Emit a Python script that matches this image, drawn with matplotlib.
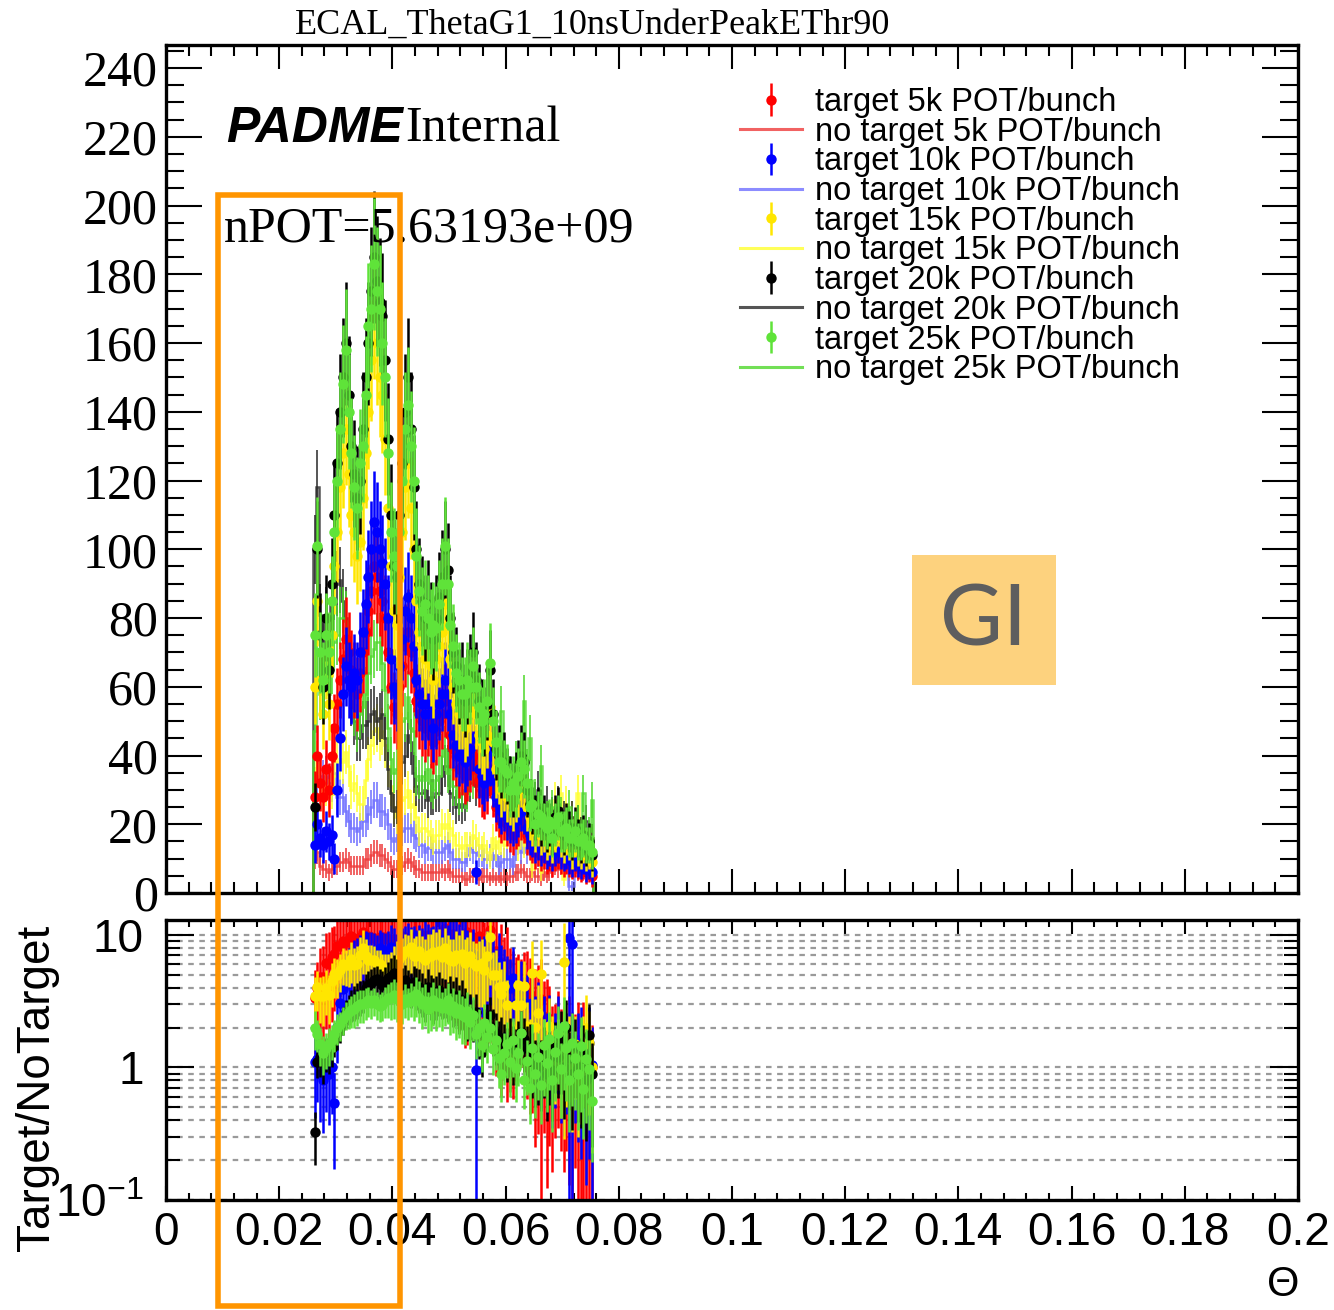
import numpy as np
import matplotlib
matplotlib.use("Agg")
import matplotlib.pyplot as plt
from matplotlib.lines import Line2D
from matplotlib.patches import Rectangle
from matplotlib.ticker import MultipleLocator, FixedLocator, NullFormatter

plt.rcParams["font.family"] = ["Liberation Sans", "DejaVu Sans"]
plt.rcParams["mathtext.fontset"] = "custom"
plt.rcParams["mathtext.rm"] = "Liberation Sans"

# histogram binning (theta)
x_lo = 0.026
bin_w = 0.0005

pot_labels = ["5k", "10k", "15k", "20k", "25k"]
col_t = ["#ff0000", "#0000ff", "#ffe600", "#000000", "#5fe339"]
col_nt = ["#ee3b3b", "#7070ff", "#ffff30", "#2a2a2a", "#4fd82c"]
pot_norm = [1.2, 1.9, 1.8, 1.3, 1.25]

t_5k = [28, 40, 32, 28, 36, 30, 40, 48, 55, 62,
        68, 74, 70, 65, 62, 58, 64, 70, 76, 82,
        88, 95, 92, 88, 85, 80, 70, 60, 54, 52,
        60, 66, 72, 76, 70, 64, 56, 52, 50, 48,
        50, 46, 44, 47, 50, 52, 56, 52, 46, 42,
        40, 36, 37, 34, 35, 38, 40, 36, 33, 30,
        29, 31, 36, 30, 25, 23, 21, 22, 20, 18,
        17, 19, 20, 22, 21, 17, 15, 14, 12, 13,
        11, 12, 10, 11, 9, 11, 12, 10, 9, 10,
        9, 8, 9, 8, 7, 8, 6, 7, 5]
nt_5k = [10, 12, 8, 7, 7, 6, 7, 8, 8, 9,
         9, 10, 9, 8, 8, 8, 8, 8, 10, 10,
         11, 12, 12, 11, 11, 10, 9, 8, 7, 7,
         8, 8, 9, 10, 9, 8, 7, 7, 6, 6,
         6, 6, 6, 6, 6, 7, 6, 7, 6, 5,
         5, 5, 5, 4, 4, 5, 5, 5, 4, 5,
         5, 5, 4, 5, 4, 5, 4, 5, 4, 5,
         5, 6, 6, 7, 6, 5, 5, 6, 5, 5,
         4, 6, 5, 6, 7, 8, 7, 8, 7, 9,
         6, 7, 8, 6, 7, 6, 7, 8, 6]

t_10k = [14, 20, 16, 14, 18, 15, 17, 10, 30, 45,
         58, 66, 62, 60, 64, 62, 70, 76, 84, 92,
         100, 108, 105, 100, 96, 90, 80, 68, 60, 58,
         66, 74, 82, 86, 80, 72, 62, 58, 55, 52,
         55, 52, 48, 52, 55, 58, 62, 58, 52, 46,
         43, 40, 41, 38, 40, 42, 45, 6, 36, 34,
         32, 35, 40, 33, 28, 26, 24, 25, 22, 21,
         20, 21, 23, 25, 24, 19, 17, 16, 14, 15,
         13, 14, 12, 13, 11, 13, 14, 12, 11, 12,
         10, 9, 11, 9, 8, 10, 7, 8, 6]
nt_10k = [24, 33, 34, 33, 34, 32, 32, 35, 28, 28,
          28, 24, 21, 19, 19, 18, 19, 21, 21, 23,
          25, 27, 27, 24, 24, 23, 20, 16, 15, 16,
          17, 18, 19, 19, 19, 17, 16, 14, 14, 12,
          13, 13, 12, 12, 12, 12, 13, 14, 12, 10,
          10, 10, 9, 9, 11, 13, 12, 12, 11, 11,
          10, 10, 11, 10, 11, 8, 9, 10, 10, 10,
          8, 13, 15, 12, 15, 12, 16, 10, 13, 11,
          16, 13, 15, 12, 17, 16, 13, 19, 21, 15,
          2, 2, 15, 12, 10, 16, 13, 10, 11]

t_15k = [60, 85, 62, 52, 68, 55, 75, 95, 105, 118,
         128, 135, 122, 110, 105, 98, 102, 115, 128, 140,
         155, 168, 160, 150, 145, 132, 112, 95, 82, 78,
         92, 105, 118, 125, 112, 100, 85, 76, 72, 68,
         70, 66, 62, 68, 72, 76, 84, 78, 68, 60,
         55, 52, 52, 48, 50, 54, 58, 52, 46, 44,
         42, 46, 54, 44, 36, 34, 30, 32, 28, 27,
         25, 28, 30, 33, 32, 25, 22, 20, 18, 20,
         17, 18, 15, 17, 14, 18, 20, 16, 14, 17,
         15, 12, 16, 13, 12, 14, 11, 12, 9]
nt_15k = [31, 38, 32, 27, 31, 28, 30, 34, 38, 39,
          38, 41, 37, 30, 32, 29, 26, 26, 33, 39,
          43, 47, 48, 45, 47, 43, 37, 31, 25, 22,
          25, 27, 28, 30, 25, 26, 22, 18, 19, 19,
          18, 17, 15, 17, 17, 20, 19, 20, 19, 17,
          14, 14, 13, 14, 14, 14, 17, 16, 14, 13,
          14, 12, 10, 16, 13, 15, 15, 14, 17, 24,
          30, 17, 13, 20, 14, 22, 26, 7, 16, 14,
          6, 22, 22, 15, 17, 27, 24, 29, 4, 26,
          18, 22, 19, 29, 18, 17, 10, 14, 16]

t_20k = [25, 100, 75, 60, 80, 65, 90, 110, 125, 140,
         150, 160, 145, 130, 122, 115, 120, 135, 150, 160,
         175, 185, 178, 172, 168, 155, 132, 110, 95, 92,
         110, 125, 140, 150, 135, 118, 100, 90, 85, 80,
         84, 78, 74, 80, 86, 92, 100, 94, 80, 70,
         66, 60, 62, 56, 60, 64, 70, 62, 56, 52,
         50, 55, 65, 52, 42, 40, 36, 38, 34, 32,
         30, 33, 36, 40, 38, 30, 26, 24, 22, 24,
         20, 22, 18, 20, 17, 22, 24, 19, 17, 20,
         18, 15, 19, 16, 14, 17, 13, 15, 11]
nt_20k = [100, 118, 81, 71, 80, 65, 84, 89, 90, 91,
          85, 80, 67, 56, 50, 45, 45, 49, 49, 50,
          52, 53, 50, 51, 52, 45, 36, 29, 24, 25,
          32, 38, 40, 46, 44, 35, 31, 29, 29, 30,
          27, 28, 28, 29, 29, 34, 37, 37, 29, 28,
          25, 26, 25, 26, 30, 32, 38, 31, 40, 52,
          33, 33, 34, 34, 30, 33, 28, 33, 32, 26,
          28, 32, 30, 28, 30, 28, 24, 26, 27, 30,
          25, 22, 26, 22, 23, 20, 26, 15, 22, 13,
          20, 22, 17, 21, 18, 17, 21, 11, 16]

t_25k = [75, 101, 70, 62, 75, 70, 85, 105, 120, 135,
         148, 158, 140, 128, 118, 112, 125, 130, 145, 165,
         170, 183, 175, 170, 160, 150, 128, 105, 98, 95,
         105, 120, 135, 142, 130, 120, 98, 88, 82, 84,
         80, 76, 78, 77, 84, 90, 101, 90, 78, 72,
         64, 62, 58, 58, 62, 60, 66, 60, 54, 50,
         52, 56, 67, 50, 44, 38, 38, 36, 35, 30,
         32, 30, 34, 38, 36, 32, 25, 26, 20, 23,
         22, 20, 19, 21, 16, 20, 22, 18, 18, 19,
         16, 16, 18, 15, 15, 16, 14, 14, 12]
nt_25k = [47, 70, 58, 60, 67, 58, 66, 73, 75, 80,
          80, 79, 67, 59, 53, 48, 52, 54, 58, 64,
          69, 71, 73, 73, 67, 59, 48, 39, 35, 36,
          41, 50, 51, 57, 48, 47, 34, 33, 34, 33,
          36, 32, 30, 33, 34, 40, 42, 35, 36, 31,
          31, 28, 29, 30, 29, 34, 33, 42, 34, 42,
          30, 41, 42, 45, 34, 40, 53, 35, 29, 34,
          25, 38, 33, 26, 56, 36, 45, 23, 28, 24,
          37, 17, 22, 16, 25, 19, 15, 23, 11, 17,
          25, 13, 19, 21, 13, 29, 15, 18, 27]

targets = [t_5k, t_10k, t_15k, t_20k, t_25k]
notargets = [nt_5k, nt_10k, nt_15k, nt_20k, nt_25k]

W_FIG, H_FIG = 1334, 1310
fig = plt.figure(figsize=(W_FIG / 100, H_FIG / 100), dpi=100)


def fx(px):
    return px / W_FIG


def fy(py):
    return 1 - py / H_FIG


ax = fig.add_axes([fx(166), fy(893), fx(1298) - fx(166), fy(45) - fy(893)])
axr = fig.add_axes([fx(166), fy(1200), fx(1298) - fx(166), fy(920) - fy(1200)])

n_bins = len(t_5k)
edges = x_lo + bin_w * np.arange(n_bins + 1)
centers = 0.5 * (edges[:-1] + edges[1:])
pad_lo, pad_hi = 8, 7
edges_pad = x_lo + bin_w * np.arange(-pad_lo, n_bins + pad_hi + 1)

handles, labels = [], []
for k in range(5):
    t = np.array(targets[k], float)
    nt = np.array(notargets[k], float)
    eb = ax.errorbar(centers, t, yerr=np.sqrt(2 * t), fmt="o", ms=7.5,
                     color=col_t[k], ecolor=col_t[k], elinewidth=1.8,
                     capsize=0, mew=0, zorder=10 + k)
    # no-target histograms sit underneath the target points
    nt_pad = np.concatenate([np.zeros(pad_lo), nt, np.zeros(pad_hi)])
    ax.stairs(nt_pad, edges_pad, color=col_nt[k], lw=1.8, alpha=0.8,
              zorder=3 + k)
    ax.errorbar(centers, nt, yerr=np.sqrt(nt), fmt="none", ecolor=col_nt[k],
                elinewidth=1.4, alpha=0.8, zorder=3 + k)
    handles += [eb, Line2D([], [], color=col_nt[k], lw=2.2, alpha=0.8)]
    labels += ["target %s POT/bunch" % pot_labels[k],
               "no target %s POT/bunch" % pot_labels[k]]

    # ratio panel
    r = pot_norm[k] * t / nt
    err = r * np.sqrt(4 / t + 2.5 / nt)
    lo = np.minimum(err, r - 1e-4)
    axr.errorbar(centers, r, yerr=[lo, err], fmt="o", ms=7.5, color=col_t[k],
                 ecolor=col_t[k], elinewidth=1.8, capsize=0, mew=0,
                 zorder=3 + k)

# --- top panel styling
ax.set_xlim(0, 0.2)
ax.set_ylim(0, 246.7)
ax.xaxis.set_major_locator(MultipleLocator(0.02))
ax.xaxis.set_minor_locator(MultipleLocator(0.004))
ax.yaxis.set_major_locator(MultipleLocator(20))
ax.yaxis.set_minor_locator(MultipleLocator(5))
ax.tick_params(axis="x", which="both", direction="in", top=True, bottom=True,
               labelbottom=False, width=1.5)
ax.tick_params(axis="x", which="major", length=17)
ax.tick_params(axis="x", which="minor", length=8)
ax.tick_params(axis="y", which="both", direction="in", left=True, right=True,
               width=1.5, pad=6)
ax.tick_params(axis="y", which="major", length=26)
ax.tick_params(axis="y", which="minor", length=13)
for lab in ax.get_yticklabels():
    lab.set_fontfamily("Liberation Serif")
    lab.set_fontsize(36)
for s in ax.spines.values():
    s.set_linewidth(2.4)
    s.set_zorder(30)

# --- ratio panel styling
axr.set_xlim(0, 0.2)
axr.set_yscale("log")
axr.set_ylim(0.1, 12.96)
axr.yaxis.set_major_locator(FixedLocator([0.1, 1, 10]))
axr.set_yticklabels([r"$\mathregular{10^{-1}}$", "1", "10"], fontsize=33)
minor_y = [m * d for d in (0.1, 1) for m in range(2, 10)]
axr.yaxis.set_minor_locator(FixedLocator(minor_y))
axr.yaxis.set_minor_formatter(NullFormatter())
axr.set_xticks(np.arange(0, 0.2001, 0.02))
axr.xaxis.set_minor_locator(MultipleLocator(0.004))
axr.set_xticklabels(["0", "0.02", "0.04", "0.06", "0.08", "0.1", "0.12",
                     "0.14", "0.16", "0.18", "0.2"], fontsize=33)
axr.tick_params(axis="x", which="both", direction="in", top=True, bottom=True,
                width=1.5, pad=8)
axr.tick_params(axis="x", which="major", length=10)
axr.tick_params(axis="x", which="minor", length=5)
axr.tick_params(axis="y", which="both", direction="in", left=True, right=True,
                width=1.5, pad=16)
axr.tick_params(axis="y", which="major", length=20)
axr.tick_params(axis="y", which="minor", length=10)
axr.yaxis.grid(True, which="both", color="#9a9a9a", lw=1.6, ls=(0, (2.5, 2.5)))
axr.set_axisbelow(True)
for s in axr.spines.values():
    s.set_linewidth(2.4)
    s.set_zorder(30)

# --- texts
fig.text(fx(593), fy(25), "ECAL_ThetaG1_10nsUnderPeakEThr90", ha="center",
         va="center", fontsize=26, family="Liberation Serif")
fig.text(fx(226), fy(142), "PADME", fontsize=36, fontweight="bold",
         fontstyle="italic", family="Liberation Sans", va="baseline")
fig.text(fx(405), fy(142), "Internal", fontsize=36, family="Liberation Serif",
         va="baseline")
fig.text(fx(224), fy(241), "nPOT=5.63193e+09", fontsize=36,
         family="Liberation Serif", va="baseline")
fig.text(fx(37), fy(1088), "Target/NoTarget", rotation=90, ha="center",
         va="center", fontsize=33)
fig.text(fx(1283), fy(1285), "\u0398", ha="center", va="center", fontsize=30)

ax.legend(handles, labels, loc="upper left",
          bbox_to_anchor=(fx(740), fy(87)), bbox_transform=fig.transFigure,
          frameon=False, fontsize=23.5, handlelength=1.9, handletextpad=0.4,
          labelspacing=-0.04, borderpad=0, borderaxespad=0)

# --- overlay annotations
fig.patches.append(Rectangle((fx(912), fy(685)), fx(1056) - fx(912),
                             fy(555) - fy(685), transform=fig.transFigure,
                             facecolor="#fdd27e", edgecolor="none", zorder=20))
fig.text(fx(984), fy(622), "GI", ha="center", va="center", fontsize=62,
         color="#5e5e5e", family="Lato", zorder=21)
fig.patches.append(Rectangle((fx(218), fy(1306)), fx(400) - fx(218),
                             fy(195) - fy(1306), transform=fig.transFigure,
                             facecolor="none", edgecolor="#ff9500", lw=4,
                             zorder=22))

fig.savefig("out.png", dpi=100)
